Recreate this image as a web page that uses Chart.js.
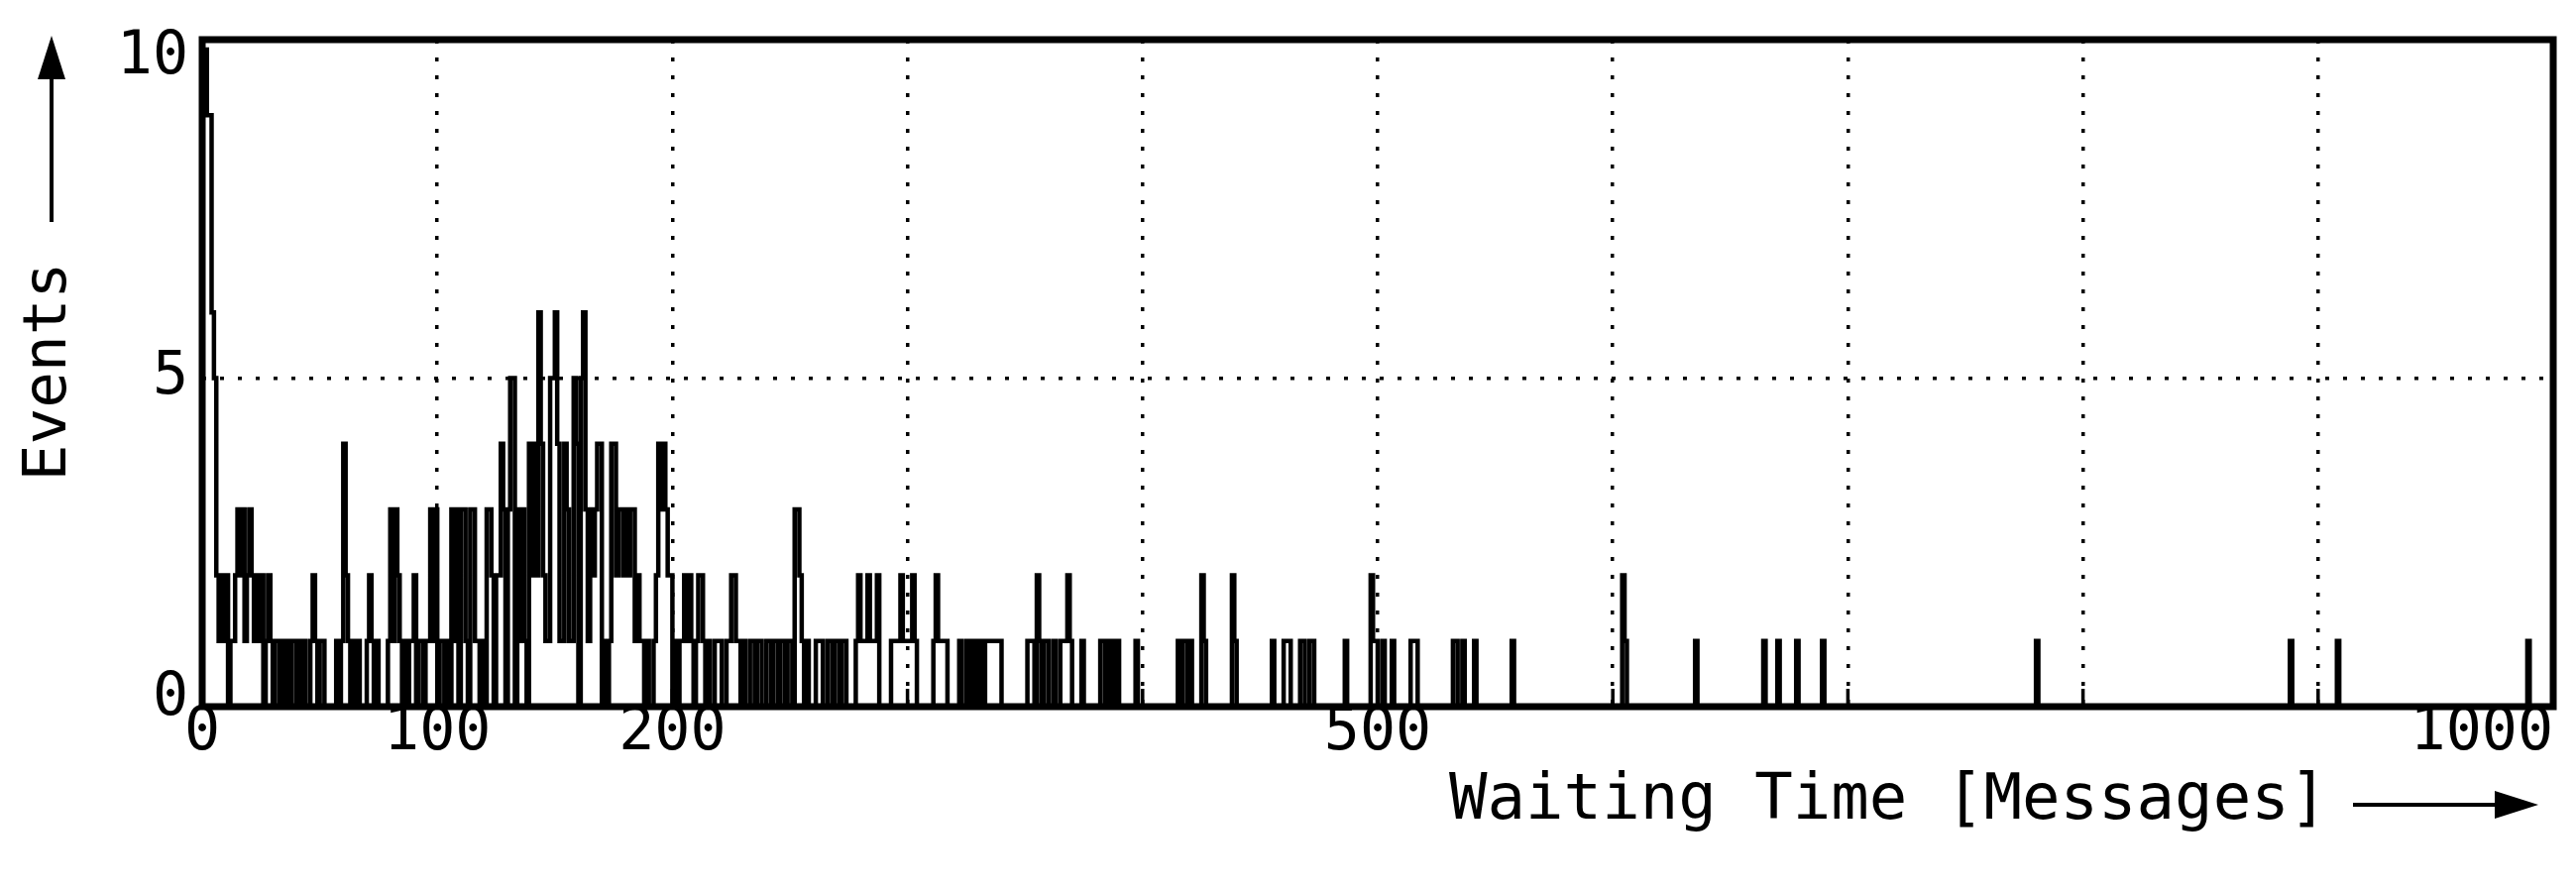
<!DOCTYPE html>
<html>
<head>
<meta charset="utf-8">
<script src="https://cdn.jsdelivr.net/npm/chart.js@4.4.0/dist/chart.umd.min.js"></script>
<style>
  html, body { margin: 0; padding: 0; background: #fff; }
  #wrap { width: 2599px; height: 897px; }
</style>
</head>
<body>
<div id="wrap"><canvas id="c" width="2599" height="897"></canvas></div>
<script>
// Events per waiting time (in messages), one bin per message, waiting times 0-99
const binsEarly = [
  10,10,10,9,9,6,5,2,1,2,
  1,2,0,1,1,2,3,2,3,1,
  2,3,2,1,2,1,2,0,1,2,
  1,0,1,1,0,1,0,1,0,1,
  1,0,1,0,1,0,0,1,2,1,
  0,1,1,0,0,0,0,0,1,0,
  1,4,2,1,0,1,0,1,0,0,
  0,1,2,1,0,1,0,0,0,0,
  1,3,1,3,2,1,0,1,0,1,
  1,2,0,1,1,0,1,1,3,1
];
// waiting times 100-199
const binsMid = [
  3,0,1,1,0,1,0,3,1,3,
  0,3,3,1,0,3,3,1,1,0,
  1,0,3,3,2,0,2,2,4,3,
  0,3,5,5,0,3,1,3,1,0,
  4,2,4,2,6,4,2,1,1,5,
  5,6,4,1,1,4,3,1,1,5,
  4,0,5,6,3,1,3,2,3,4,
  4,0,1,0,1,4,4,2,3,3,
  2,3,2,3,3,1,2,1,1,0,
  1,0,0,1,2,4,3,4,3,2
];
// waiting times 200-299
const binsLate = [
  2,0,1,0,1,1,2,1,2,1,
  0,1,2,2,1,0,1,0,0,1,
  1,1,0,0,1,1,2,2,1,1,
  0,1,0,0,1,1,0,1,1,0,
  0,1,1,0,1,1,0,1,1,0,
  1,1,0,3,3,2,1,0,1,0,
  0,0,1,1,1,0,0,1,1,0,
  1,1,0,1,1,0,0,0,0,1,
  2,1,1,1,2,1,1,1,2,0,
  0,0,0,0,1,1,1,1,2,1
];
// isolated waiting times from 300 messages on, with their event counts
const tailTimes = [
  300,301,302,303,304,312,313,314,315,316,317,323,326,328,330,332,
  334,335,336,337,338,339,340,352,353,354,356,357,359,360,363,
  366,367,368,369,370,375,383,384,386,388,390,398,
  416,418,419,421,426,427,439,440,456,461,462,463,
  468,469,472,473,487,498,499,500,503,507,515,516,517,
  533,534,537,542,558,605,606,636,665,
  671,679,690,781,889,909,990
];
const tailEvents = [
  1,1,1,2,1,1,2,1,1,1,1,1,1,1,1,1,
  1,1,1,1,1,1,1,1,1,1,2,1,1,1,1,
  1,1,1,2,1,1,1,1,1,1,1,1,
  1,1,1,1,2,1,2,1,1,1,1,1,
  1,1,1,1,1,2,1,1,1,1,1,1,1,
  1,1,1,1,1,2,1,1,1,
  1,1,1,1,1,1,1
];

const xTickLabels = [0, 100, 200, 500, 1000];
const yTickLabels = [0, 5, 10];
const xGridValues = [100, 200, 300, 400, 500, 600, 700, 800, 900];
const yGridValues = [5];
const xAxisTitle = 'Waiting Time [Messages]';
const yAxisTitle = 'Events';

// one point per bin edge, 0..1000, drawn as a histogram outline
const histogram = [];
for (let t = 0; t <= 1000; t++) histogram.push({ x: t, y: 0 });
[...binsEarly, ...binsMid, ...binsLate].forEach((c, i) => { histogram[i].y = c; });
tailTimes.forEach((t, i) => { histogram[t].y = tailEvents[i]; });

const FONT = '"DejaVu Sans Mono", "Liberation Mono", monospace';

function arrow(ctx, x1, y1, x2, y2, head, halfW) {
  const ang = Math.atan2(y2 - y1, x2 - x1);
  const bx = x2 - head * Math.cos(ang), by = y2 - head * Math.sin(ang);
  ctx.beginPath();
  ctx.moveTo(x1, y1);
  ctx.lineTo(bx, by);
  ctx.lineWidth = 4;
  ctx.stroke();
  ctx.beginPath();
  ctx.moveTo(x2, y2);
  ctx.lineTo(bx + halfW * Math.sin(ang), by - halfW * Math.cos(ang));
  ctx.lineTo(bx - halfW * Math.sin(ang), by + halfW * Math.cos(ang));
  ctx.closePath();
  ctx.fill();
}

const decorations = {
  id: 'decorations',
  afterDraw(chart) {
    const { ctx, chartArea: a } = chart;
    const xs = chart.scales.x, ys = chart.scales.y;
    ctx.save();
    ctx.strokeStyle = '#000';
    ctx.fillStyle = '#000';

    // small solid ticks at the foot of each vertical grid line
    ctx.lineWidth = 3.5;
    xGridValues.forEach(v => {
      const px = xs.getPixelForValue(v);
      ctx.beginPath();
      ctx.moveTo(px, a.bottom);
      ctx.lineTo(px, a.bottom - 18);
      ctx.stroke();
    });

    // plot frame
    ctx.lineWidth = 7;
    ctx.strokeRect(a.left, a.top, a.right - a.left, a.bottom - a.top);

    // tick labels
    ctx.font = '60px ' + FONT;
    ctx.textBaseline = 'middle';
    xTickLabels.forEach((v, i) => {
      const px = xs.getPixelForValue(v);
      if (i === xTickLabels.length - 1) {
        ctx.textAlign = 'right';
        ctx.fillText(String(v), a.right, a.bottom + 27);
      } else {
        ctx.textAlign = 'center';
        ctx.fillText(String(v), px, a.bottom + 27);
      }
    });
    ctx.textAlign = 'right';
    const yShift = { 0: -8, 5: 0, 10: 8 };
    yTickLabels.forEach(v => {
      ctx.fillText(String(v), a.left - 14, ys.getPixelForValue(v) + yShift[v]);
    });

    // axis titles with arrows
    ctx.font = '64px ' + FONT;
    ctx.textAlign = 'left';
    ctx.fillText(xAxisTitle, 1462, 809);
    arrow(ctx, 2374, 812, 2561, 812, 44, 14);

    ctx.font = '61px ' + FONT;
    ctx.save();
    ctx.translate(50, 375);
    ctx.rotate(-Math.PI / 2);
    ctx.textAlign = 'center';
    ctx.fillText(yAxisTitle, 0, 0);
    ctx.restore();
    arrow(ctx, 52, 224, 52, 36, 44, 14);

    ctx.restore();
  }
};

new Chart(document.getElementById('c'), {
  type: 'line',
  data: {
    datasets: [{
      data: histogram,
      stepped: 'after',
      borderColor: '#000',
      borderWidth: 4.5,
      pointRadius: 0,
      fill: false,
      tension: 0
    }]
  },
  options: {
    responsive: false,
    animation: false,
    devicePixelRatio: 1,
    layout: { padding: { left: 204, right: 23, top: 40, bottom: 184 } },
    plugins: { legend: { display: false }, tooltip: { enabled: false } },
    scales: {
      x: {
        type: 'linear', min: 0, max: 1000,
        ticks: { display: false, stepSize: 100 },
        grid: {
          drawTicks: false,
          lineWidth: 3.5,
          color: c => (c.tick && xGridValues.includes(c.tick.value)) ? '#000' : 'rgba(0,0,0,0)'
        },
        border: { display: false, dash: [4, 14] }
      },
      y: {
        type: 'linear', min: 0, max: 10.15,
        ticks: { display: false, stepSize: 5 },
        afterBuildTicks: s => { s.ticks = yTickLabels.map(v => ({ value: v })); },
        grid: {
          drawTicks: false,
          lineWidth: 3.5,
          color: c => (c.tick && yGridValues.includes(c.tick.value)) ? '#000' : 'rgba(0,0,0,0)'
        },
        border: { display: false, dash: [4, 14] }
      }
    }
  },
  plugins: [decorations]
});
</script>
</body>
</html>
